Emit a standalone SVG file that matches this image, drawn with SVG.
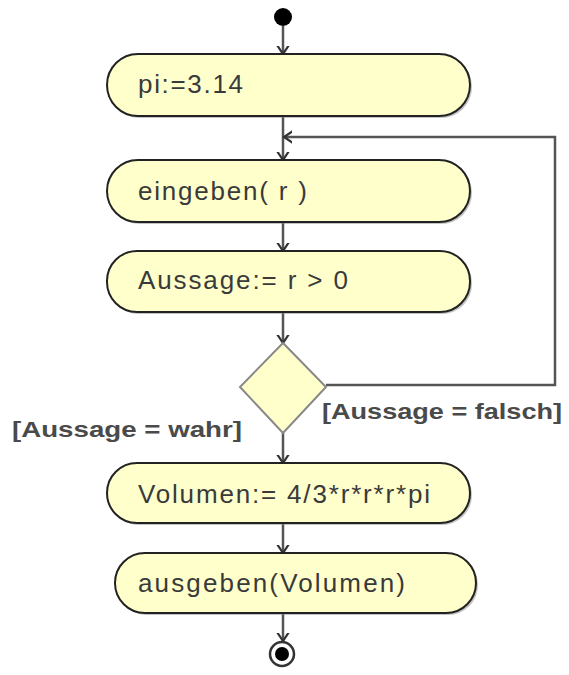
<svg xmlns="http://www.w3.org/2000/svg" width="569" height="675" viewBox="0 0 569 675">
<defs>
<marker id="arr" markerWidth="16" markerHeight="16" viewBox="-8 -8 16 16" refX="0" refY="0" orient="auto" markerUnits="userSpaceOnUse">
<path d="M-9,-6 L0,0 L-9,6" fill="none" stroke="#333" stroke-width="2.2"/>
</marker>
</defs>
<style>
.act{fill:#ffffcc;stroke:#222;stroke-width:2}
.sh{fill:#888;opacity:0.5}
.t{font-family:"Liberation Sans",Arial,sans-serif;font-size:26px;fill:#3a3a3a}
.lbl{font-family:"Liberation Sans",Arial,sans-serif;font-size:22px;font-weight:bold;fill:#4a4a4a}
.c{fill:none;stroke:#555;stroke-width:2.5}
</style>
<rect width="569" height="675" fill="#ffffff"/>
<g id="connectors">
<line class="c" x1="283" y1="26" x2="283" y2="54" marker-end="url(#arr)"/>
<line class="c" x1="283" y1="116" x2="283" y2="160" marker-end="url(#arr)"/>
<polyline class="c" points="326,385 555,385 555,137 284,137" marker-end="url(#arr)"/>
<line class="c" x1="283" y1="222" x2="283" y2="251" marker-end="url(#arr)"/>
<line class="c" x1="283" y1="312" x2="283" y2="343" marker-end="url(#arr)"/>
<line class="c" x1="283" y1="433" x2="283" y2="463" marker-end="url(#arr)"/>
<line class="c" x1="283" y1="523" x2="283" y2="553" marker-end="url(#arr)"/>
<line class="c" x1="283" y1="613" x2="283" y2="641" marker-end="url(#arr)"/>
<text class="lbl" x="12" y="437" textLength="230" lengthAdjust="spacingAndGlyphs">[Aussage = wahr]</text>
<text class="lbl" x="322" y="419" textLength="240" lengthAdjust="spacingAndGlyphs">[Aussage = falsch]</text>
</g>
<g id="start">
<circle cx="283" cy="17" r="9" fill="#000"/>
</g>
<g id="n1">
<rect class="sh" x="109" y="56" width="363" height="62" rx="31"/>
<rect class="act" x="107" y="54" width="363" height="62" rx="31"/>
<text class="t" x="138" y="93" textLength="105" lengthAdjust="spacing">pi:=3.14</text>
</g>
<g id="n2">
<rect class="sh" x="109" y="162" width="363" height="62" rx="31"/>
<rect class="act" x="107" y="160" width="363" height="62" rx="31"/>
<text class="t" x="138" y="200" textLength="169" lengthAdjust="spacing">eingeben( r )</text>
</g>
<g id="n3">
<rect class="sh" x="109" y="253" width="363" height="61" rx="30"/>
<rect class="act" x="107" y="251" width="363" height="61" rx="30"/>
<text class="t" x="138" y="289" textLength="210" lengthAdjust="spacing">Aussage:= r &gt; 0</text>
</g>
<g id="decision">
<polygon points="283,343 326,387 283,433 240,387" fill="#ffffcc" stroke="#888" stroke-width="2"/>
</g>
<g id="n4">
<rect class="sh" x="109" y="465" width="363" height="60" rx="30"/>
<rect class="act" x="107" y="463" width="363" height="60" rx="30"/>
<text class="t" x="138" y="503" textLength="292" lengthAdjust="spacing">Volumen:= 4/3*r*r*r*pi</text>
</g>
<g id="n5">
<rect class="sh" x="117" y="555" width="361" height="60" rx="30"/>
<rect class="act" x="115" y="553" width="361" height="60" rx="30"/>
<text class="t" x="138" y="592" textLength="267" lengthAdjust="spacing">ausgeben(Volumen)</text>
</g>
<g id="end">
<circle cx="282" cy="654" r="12" fill="#fff" stroke="#333" stroke-width="2.5"/>
<circle cx="282" cy="654" r="7" fill="#000"/>
</g>
</svg>
